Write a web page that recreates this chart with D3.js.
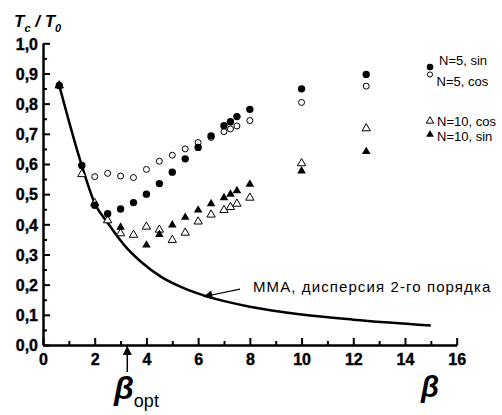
<!DOCTYPE html>
<html>
<head>
<meta charset="utf-8">
<script src="https://cdn.jsdelivr.net/npm/d3@7"></script>
<style>
  body { margin: 0; background: #fff; }
  svg { display: block; font-family: Arial, "Liberation Sans", sans-serif; }
  .axis path, .axis line { stroke: #000; stroke-width: 2; }
  .axis text { font-weight: 700; font-size: 16px; font-family: "Liberation Sans", Arial, sans-serif; fill: #000; }
</style>
</head>
<body>
<div id="chart"></div>
<script>
// N=5, sin (filled circles)
const sin5X = [0.63, 1.5, 2, 2.5, 3, 3.5, 4, 4.5, 5, 5.5, 6, 6.5, 7, 7.25, 7.5, 8, 10, 12.5];
const sin5Y = [0.86, 0.595, 0.463, 0.435, 0.451, 0.472, 0.50, 0.535, 0.573, 0.617, 0.655, 0.693, 0.727, 0.74, 0.757, 0.781, 0.849, 0.897];
// N=5, cos (open circles)
const cos5X = [2, 2.5, 3, 3.5, 4, 4.5, 5, 5.5, 6, 6.5, 7, 7.25, 7.5, 8, 10, 12.5];
const cos5Y = [0.558, 0.569, 0.56, 0.555, 0.582, 0.609, 0.629, 0.65, 0.671, 0.688, 0.707, 0.716, 0.726, 0.744, 0.804, 0.858];
// N=10, cos (open triangles)
const cos10X = [0.63, 1.5, 2, 2.5, 3, 3.5, 4, 4.5, 5, 5.5, 6, 6.5, 7, 7.25, 7.5, 8, 10, 12.5];
const cos10Y = [0.86, 0.566, 0.47, 0.413, 0.37, 0.365, 0.392, 0.382, 0.348, 0.372, 0.409, 0.432, 0.447, 0.457, 0.468, 0.488, 0.602, 0.718];
// N=10, sin (filled triangles)
const sin10X = [0.63, 3, 4, 4.5, 5, 5.5, 6, 6.5, 7, 7.25, 7.5, 8, 10, 12.5];
const sin10Y = [0.86, 0.39, 0.331, 0.366, 0.398, 0.423, 0.447, 0.468, 0.488, 0.50, 0.511, 0.533, 0.577, 0.641];
// MMA curve, 2nd order dispersion
const mmaX = [0.63, 1.5, 2, 2.5, 3.2, 3.8, 4.6, 5.4, 6.3, 8, 10, 12, 15];
const mmaY = [0.86, 0.595, 0.47, 0.405, 0.325, 0.275, 0.224, 0.19, 0.162, 0.127, 0.101, 0.084, 0.065];

const xTicks = [0, 2, 4, 6, 8, 10, 12, 14, 16];
const xMinor = [1, 3, 5, 7, 9, 11, 13, 15];
const yTicks = [0, 0.1, 0.2, 0.3, 0.4, 0.5, 0.6, 0.7, 0.8, 0.9, 1.0];
const yTickLabels = ["0,0", "0,1", "0,2", "0,3", "0,4", "0,5", "0,6", "0,7", "0,8", "0,9", "1,0"];
const yMinor = [0.05, 0.15, 0.25, 0.35, 0.45, 0.55, 0.65, 0.75, 0.85, 0.95];

const betaOpt = 3.26;
const arrowFrom = [7.62, 0.185], arrowTo = [6.2, 0.16];

const width = 502, height = 415;
const x = d3.scaleLinear().domain([0, 16]).range([43, 456.7]);
const y = d3.scaleLinear().domain([0, 1]).range([345, 43.3]);

const svg = d3.select('#chart').append('svg')
    .attr('width', width)
    .attr('height', height);

const defs = svg.append('defs');
defs.append('marker')
    .attr('id', 'head')
    .attr('viewBox', '0 0 10 10')
    .attr('refX', 10).attr('refY', 5)
    .attr('markerWidth', 11).attr('markerHeight', 9)
    .attr('markerUnits', 'userSpaceOnUse')
    .attr('orient', 'auto')
  .append('path')
    .attr('d', 'M0,0 L10,5 L0,10 Z')
    .attr('fill', '#000');

// minor ticks
svg.append('g')
    .attr('class', 'axis')
    .attr('transform', `translate(0,${y(0)})`)
    .call(d3.axisBottom(x).tickValues(xMinor).tickSize(-4).tickSizeOuter(0).tickFormat(() => ''));
svg.append('g')
    .attr('class', 'axis')
    .attr('transform', `translate(${x(0)},0)`)
    .call(d3.axisLeft(y).tickValues(yMinor).tickSize(-4).tickSizeOuter(0).tickFormat(() => ''));

// major axes
const xAxis = svg.append('g')
    .attr('class', 'axis')
    .attr('transform', `translate(0,${y(0)})`)
    .call(d3.axisBottom(x).tickValues(xTicks).tickSize(-7).tickSizeOuter(0).tickPadding(0).tickFormat(d3.format('d')));
xAxis.selectAll('text').attr('y', 20).attr('dy', 0)
    .style('font-weight', '700').style('stroke', '#000').style('stroke-width', 0.4);

const yAxis = svg.append('g')
    .attr('class', 'axis')
    .attr('transform', `translate(${x(0)},0)`)
    .call(d3.axisLeft(y).tickValues(yTicks).tickSize(-7).tickSizeOuter(0)
        .tickFormat((d, i) => yTickLabels[i]));
yAxis.selectAll('text').attr('x', -5).attr('dy', '0.36em')
    .style('font-weight', '700').style('stroke', '#000').style('stroke-width', 0.4);

// MMA curve
const line = d3.line()
    .x(d => x(d[0]))
    .y(d => y(d[1]))
    .curve(d3.curveMonotoneX);
svg.append('path')
    .datum(d3.zip(mmaX, mmaY))
    .attr('d', line)
    .attr('fill', 'none')
    .attr('stroke', '#000')
    .attr('stroke-width', 2.5);

// data points
const tri = d3.symbol().type(d3.symbolTriangle);

svg.selectAll('.cos10')
    .data(d3.zip(cos10X, cos10Y))
  .enter().append('path')
    .attr('d', tri.size(30)())
    .attr('transform', d => `translate(${x(d[0])},${y(d[1])})`)
    .attr('fill', '#fff')
    .attr('stroke', '#000')
    .attr('stroke-width', 1);

svg.selectAll('.sin10')
    .data(d3.zip(sin10X, sin10Y))
  .enter().append('path')
    .attr('d', tri.size(32)())
    .attr('transform', d => `translate(${x(d[0])},${y(d[1])})`)
    .attr('fill', '#000');

svg.selectAll('.cos5')
    .data(d3.zip(cos5X, cos5Y))
  .enter().append('circle')
    .attr('cx', d => x(d[0]))
    .attr('cy', d => y(d[1]))
    .attr('r', 3)
    .attr('fill', '#fff')
    .attr('stroke', '#000')
    .attr('stroke-width', 1);

svg.selectAll('.sin5')
    .data(d3.zip(sin5X, sin5Y))
  .enter().append('circle')
    .attr('cx', d => x(d[0]))
    .attr('cy', d => y(d[1]))
    .attr('r', 3.7)
    .attr('fill', '#000');

// annotation arrow + label
svg.append('line')
    .attr('x1', x(arrowFrom[0])).attr('y1', y(arrowFrom[1]))
    .attr('x2', x(arrowTo[0])).attr('y2', y(arrowTo[1]))
    .attr('stroke', '#000')
    .attr('stroke-width', 1.2)
    .attr('marker-end', 'url(#head)');
svg.append('text')
    .attr('x', 253).attr('y', 291.5)
    .attr('font-size', 15)
    .attr('letter-spacing', 1.1)
    .text('ММА, дисперсия 2-го порядка');

// beta_opt arrow
svg.append('line')
    .attr('x1', x(betaOpt)).attr('y1', 372)
    .attr('x2', x(betaOpt)).attr('y2', y(0) + 1)
    .attr('stroke', '#000')
    .attr('stroke-width', 1.5)
    .attr('marker-end', 'url(#head)');

const bo = svg.append('text')
    .attr('x', 114).attr('y', 399);
bo.append('tspan')
    .attr('font-size', 32).attr('font-weight', 'bold').attr('font-style', 'italic')
    .text('β');
bo.append('tspan')
    .attr('font-size', 18).attr('dy', 8)
    .text('opt');

svg.append('text')
    .attr('x', 421).attr('y', 397)
    .attr('font-size', 29).attr('font-weight', 'bold').attr('font-style', 'italic')
    .text('β');

// y label T_c / T_0
const yl = svg.append('text')
    .attr('x', 14).attr('y', 27)
    .attr('font-size', 17).attr('font-weight', 'bold').attr('font-style', 'italic');
yl.append('tspan').text('T');
yl.append('tspan').attr('font-size', 11).attr('dy', 5).text('c');
yl.append('tspan').attr('dy', -5).text(' / T');
yl.append('tspan').attr('font-size', 11).attr('dy', 5).text('0');

// legend
const legend = [
    { label: 'N=5, sin', kind: 'fc', ly: 67, tx: 439, ty: 64.5 },
    { label: 'N=5,  cos', kind: 'oc', ly: 74.5, tx: 436.5, ty: 86 },
    { label: 'N=10, cos', kind: 'ot', ly: 121, tx: 437, ty: 125.5 },
    { label: 'N=10, sin', kind: 'ft', ly: 134.5, tx: 437, ty: 140.5 }
];
const lg = svg.append('g');
legend.forEach(d => {
    if (d.kind === 'fc') {
        lg.append('circle').attr('cx', 430).attr('cy', d.ly).attr('r', 3.3).attr('fill', '#000');
    } else if (d.kind === 'oc') {
        lg.append('circle').attr('cx', 430).attr('cy', d.ly).attr('r', 2.6)
            .attr('fill', '#fff').attr('stroke', '#000').attr('stroke-width', 1);
    } else if (d.kind === 'ot') {
        lg.append('path').attr('d', tri.size(24)()).attr('transform', `translate(430,${d.ly})`)
            .attr('fill', '#fff').attr('stroke', '#000').attr('stroke-width', 1);
    } else {
        lg.append('path').attr('d', tri.size(26)()).attr('transform', `translate(430,${d.ly})`)
            .attr('fill', '#000');
    }
    lg.append('text')
        .attr('x', d.tx).attr('y', d.ty)
        .attr('font-size', 13)
        .text(d.label);
});
</script>
</body>
</html>
